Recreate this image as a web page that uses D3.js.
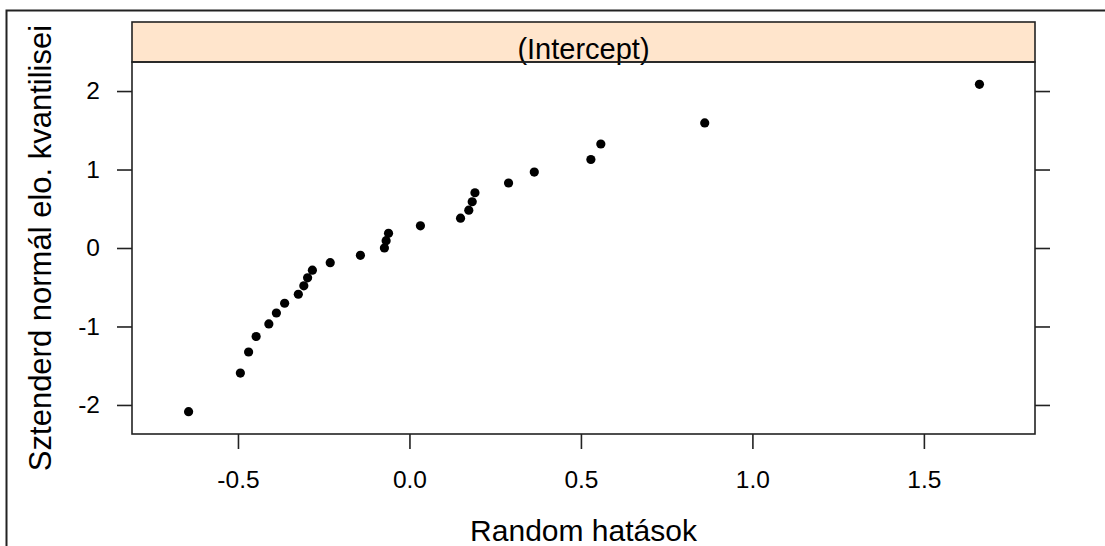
<!DOCTYPE html>
<html>
<head>
<meta charset="utf-8">
<script src="https://cdn.jsdelivr.net/npm/d3@7"></script>
<style>
  html, body { margin: 0; padding: 0; background: #fff; }
  svg { display: block; }
  text { font-family: "Liberation Sans", Arial, sans-serif; fill: #000; }
</style>
</head>
<body>
<svg id="chart" width="1105" height="546"></svg>
<script>
// Random effects (x) and standard normal quantiles (y), sorted
const randomEffects = [-0.644, -0.493, -0.469, -0.447, -0.410, -0.388, -0.364, -0.324, -0.308,
  -0.297, -0.283, -0.231, -0.143, -0.073, -0.068, -0.061, 0.032, 0.149, 0.173, 0.183, 0.191,
  0.289, 0.364, 0.529, 0.558, 0.861, 1.662];
const normalQuantiles = [-2.0858, -1.5932, -1.3253, -1.1278, -0.9674, -0.8284, -0.7040, -0.5895,
  -0.4823, -0.3804, -0.2822, -0.1867, -0.0929, 0.0, 0.0929, 0.1867, 0.2822, 0.3804, 0.4823,
  0.5895, 0.7040, 0.8284, 0.9674, 1.1278, 1.3253, 1.5932, 2.0858];
const xTicks = [-0.5, 0.0, 0.5, 1.0, 1.5];
const xTickLabels = ["-0.5", "0.0", "0.5", "1.0", "1.5"];
const yTicks = [-2, -1, 0, 1, 2];
const yTickLabels = ["-2", "-1", "0", "1", "2"];
const stripLabel = "(Intercept)";
const xTitle = "Random hatások";
const yTitle = "Sztenderd normál elo. kvantilisei";

const svg = d3.select("#chart");
const panel = { left: 132, right: 1035, top: 62, bottom: 434 };
const stripTop = 22;

const x = d3.scaleLinear().domain([-0.809, 1.824]).range([panel.left, panel.right]);
const y = d3.scaleLinear().domain([-2.37, 2.37]).range([panel.bottom, panel.top]);

// outer frame (top and left edges)
svg.append("path")
  .attr("d", `M6.5,546 L6.5,10.5 L1105,10.5`)
  .attr("fill", "none").attr("stroke", "#222").attr("stroke-width", 2);

// strip
svg.append("rect")
  .attr("x", panel.left).attr("y", stripTop)
  .attr("width", panel.right - panel.left).attr("height", panel.top - stripTop)
  .attr("fill", "#FFE5CC").attr("stroke", "#222").attr("stroke-width", 1.6);
svg.append("text")
  .attr("x", (panel.left + panel.right) / 2).attr("y", 59)
  .attr("text-anchor", "middle").attr("font-size", 29)
  .text(stripLabel);

// axes
const tickLen = 15;
const xAxis = d3.axisBottom(x).tickValues(xTicks).tickSize(tickLen).tickPadding(22)
  .tickFormat((d, i) => xTickLabels[i]);
const yAxisL = d3.axisLeft(y).tickValues(yTicks).tickSize(tickLen).tickPadding(17)
  .tickFormat((d, i) => yTickLabels[i]);
const yAxisR = d3.axisRight(y).tickValues(yTicks).tickSize(tickLen).tickFormat("");

function styleAxis(g) {
  g.select(".domain").remove();
  g.selectAll(".tick line").attr("stroke", "#222").attr("stroke-width", 1.6);
  g.selectAll(".tick text").attr("font-size", 24.5).attr("fill", "#000")
    .style("font-family", '"Liberation Sans", Arial, sans-serif');
}
svg.append("g").attr("transform", `translate(0,${panel.bottom})`).call(xAxis).call(styleAxis);
svg.append("g").attr("transform", `translate(${panel.left},0)`).call(yAxisL).call(styleAxis);
svg.append("g").attr("transform", `translate(${panel.right},0)`).call(yAxisR).call(styleAxis);

// panel border
svg.append("rect")
  .attr("x", panel.left).attr("y", panel.top)
  .attr("width", panel.right - panel.left).attr("height", panel.bottom - panel.top)
  .attr("fill", "none").attr("stroke", "#222").attr("stroke-width", 1.6);

// points
svg.append("g").selectAll("circle")
  .data(randomEffects.map((v, i) => [v, normalQuantiles[i]]))
  .join("circle")
  .attr("cx", d => x(d[0])).attr("cy", d => y(d[1]))
  .attr("r", 4.6).attr("fill", "#000");

// titles
svg.append("text")
  .attr("x", (panel.left + panel.right) / 2).attr("y", 541)
  .attr("text-anchor", "middle").attr("font-size", 30)
  .text(xTitle);
svg.append("text")
  .attr("transform", `translate(51,248) rotate(-90)`)
  .attr("text-anchor", "middle").attr("font-size", 31)
  .text(yTitle);
</script>
</body>
</html>
